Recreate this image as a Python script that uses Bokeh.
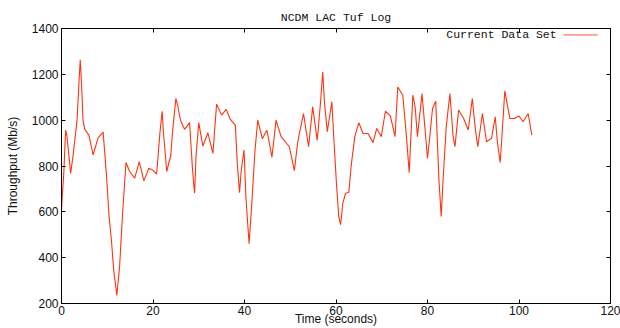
from bokeh.plotting import figure
from bokeh.models import LinearAxis, FixedTicker, Label, Arrow, Range1d
from bokeh.embed import file_html
from bokeh.resources import INLINE

title_text = "NCDM LAC Tuf Log"
series_name = "Current Data Set"
x_label = "Time (seconds)"
y_label = "Throughput (Mb/s)"
x_ticks = [0, 20, 40, 60, 80, 100, 120]
y_ticks = [200, 400, 600, 800, 1000, 1200, 1400]

time_s = [
    0.0, 0.5, 0.9, 1.2, 2.0, 2.5, 3.0, 3.4, 3.8, 4.1, 4.4, 4.7, 5.1, 6.0, 6.9,
    8.0, 9.1, 9.8, 10.4, 10.9, 11.4, 12.1, 12.7, 13.4, 14.1, 14.9, 16.0, 17.0,
    18.0, 19.1, 19.9, 20.8, 21.5, 22.0, 22.3, 23.0, 23.9, 24.3, 25.0, 25.4,
    26.0, 26.9, 28.0, 28.6, 28.9, 29.1, 29.4, 30.0, 30.9, 32.0, 33.1, 33.9,
    35.0, 36.0, 36.9, 38.0, 38.4, 38.9, 39.3, 39.9, 40.3, 41.0, 41.6, 42.3,
    42.9, 43.9, 44.9, 46.0, 46.9, 48.0, 49.8, 50.9, 51.6, 52.0,
    52.9, 54.0, 54.9, 55.9, 56.6, 57.1, 57.5, 58.1, 58.6, 59.1, 59.5, 60.1,
    60.6, 61.0, 61.5, 62.1, 62.8, 63.3, 64.1, 65.0, 65.9, 67.0, 68.1, 68.9,
    69.9, 70.8, 71.9, 72.9, 73.5, 74.6, 75.4, 76.0, 76.8, 77.3, 77.8,
    78.8, 79.4, 80.0, 80.5, 81.1, 81.8, 82.5, 83.0, 83.4, 84.1, 84.9, 85.6,
    86.0, 86.8, 87.9, 88.9, 89.8, 90.4, 91.0, 92.0, 92.9, 94.0, 94.8, 95.3,
    95.9, 96.4, 96.9, 98.0, 99.0, 100.0, 100.9, 102.0, 102.8,
]
throughput = [
    610, 768, 957, 930, 768, 841, 928, 1000, 1160, 1264, 1150, 1000, 960, 935, 848,
    923, 948, 768, 580, 479, 348, 235, 363, 609, 815, 776, 747, 819,
    735, 790, 783, 765, 942, 1039, 942, 776, 848, 957, 1094, 1065,
    1000, 960, 989, 797, 718, 681, 841, 989, 887, 945, 855, 1070,
    1022, 1047, 1003, 978, 819, 684, 783, 870, 667, 461, 638, 870,
    1000, 919, 957, 838, 1000, 928, 884, 780, 899, 942,
    1029, 884, 1058, 913, 1073, 1210, 1073, 950, 1015, 1080, 928, 725,
    580, 544, 638, 681, 684, 797, 928, 989, 942, 942, 902, 964,
    928, 1039, 1018, 928, 1145, 1109, 928, 771, 1109, 1058, 928,
    1116, 975, 834, 928, 1051, 1083, 739, 580, 739, 971, 1116, 928,
    884, 1044, 1007, 957, 1094, 971, 884, 1029, 906, 921, 1015, 900,
    815, 971, 1128, 1007, 1007, 1018, 993, 1029, 935,
]

LINE_COLOR = "#ff3311"
SANS = "Liberation Sans"
MONO = "Liberation Mono"

p = figure(width=620, height=328, output_backend="svg", toolbar_location=None,
           x_range=Range1d(0, 120), y_range=Range1d(200, 1400),
           min_border_left=61, min_border_right=10, min_border_top=28,
           min_border_bottom=23, background_fill_color="white",
           border_fill_color="white")

p.line(time_s, throughput, line_color=LINE_COLOR, line_width=1.1)

p.title.text = title_text
p.title.align = "center"
p.title.text_font = MONO
p.title.text_font_size = "11.5px"
p.title.text_font_style = "normal"
p.title.text_color = "#111111"
p.title.standoff = 9

p.grid.visible = False
p.outline_line_color = "black"
p.outline_line_width = 1

def style_axis(ax, ticks, show_labels):
    ax.ticker = FixedTicker(ticks=ticks)
    ax.major_tick_in = 4
    ax.major_tick_out = 0
    ax.minor_tick_line_color = None
    ax.major_tick_line_color = "black"
    ax.axis_line_color = "black"
    ax.major_label_text_font = SANS
    ax.major_label_text_font_size = "12px"
    ax.major_label_text_color = "#111111"
    if not show_labels:
        ax.major_label_overrides = {t: "" for t in ticks}

style_axis(p.xaxis[0], x_ticks, True)
style_axis(p.yaxis[0], y_ticks, True)
p.xaxis[0].major_label_standoff = 2
p.yaxis[0].major_label_standoff = 3

for ax, lab, so in ((p.yaxis[0], y_label, 9), (p.xaxis[0], x_label, -6)):
    ax.axis_label = lab
    ax.axis_label_text_font = SANS
    ax.axis_label_text_font_size = "12px"
    ax.axis_label_text_font_style = "normal"
    ax.axis_label_text_color = "#111111"
    ax.axis_label_standoff = so

top_axis = LinearAxis()
style_axis(top_axis, x_ticks, False)
p.add_layout(top_axis, "above")
right_axis = LinearAxis()
style_axis(right_axis, y_ticks, False)
p.add_layout(right_axis, "right")

# legend: text followed by a line sample (gnuplot style)
p.add_layout(Label(x=84.1, y=1372, text=series_name, text_align="left",
                   text_baseline="middle", text_font=MONO,
                   text_font_size="11.5px", text_color="#111111"))
p.add_layout(Arrow(end=None, x_start=109.7, y_start=1372, x_end=117.2,
                   y_end=1372, line_color="#ff9d8d", line_width=1.6))

open("out.html", "w").write(file_html(p, INLINE))
